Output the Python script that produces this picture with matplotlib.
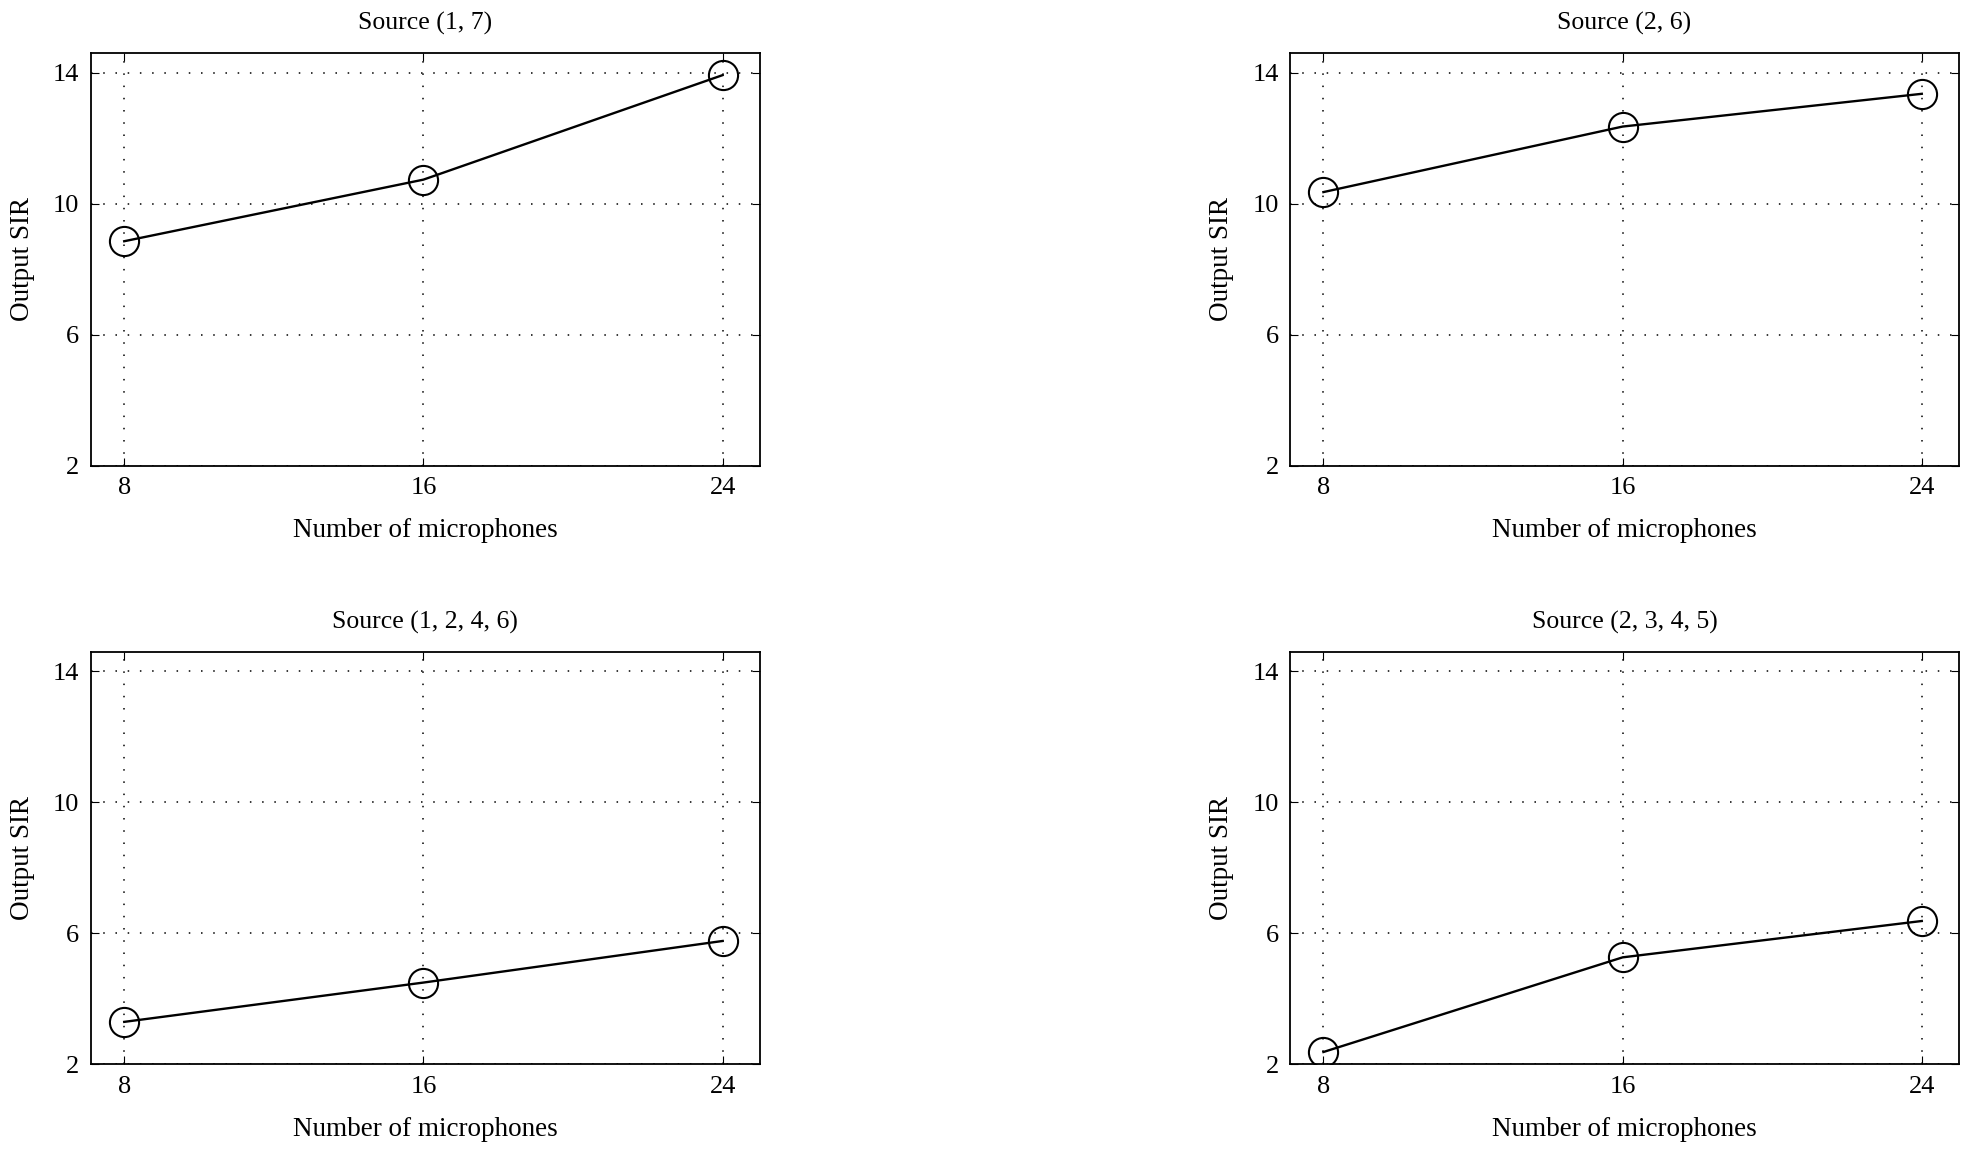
import matplotlib
matplotlib.use("Agg")
import matplotlib.pyplot as plt

mics = [8, 16, 24]
titles = ["Source (1, 7)", "Source (2, 6)", "Source (1, 2, 4, 6)", "Source (2, 3, 4, 5)"]
sir_1_7 = [8.85, 10.73, 13.92]
sir_2_6 = [10.35, 12.35, 13.35]
sir_1246 = [3.3, 4.5, 5.77]
sir_2345 = [2.38, 5.27, 6.38]
series = [sir_1_7, sir_2_6, sir_1246, sir_2345]
yticks = [2, 6, 10, 14]

plt.rcParams['font.family'] = ['Liberation Serif', 'DejaVu Serif']

fig = plt.figure(figsize=(19.73, 11.54), dpi=100)
positions = [
    [0.0459, 0.5965, 0.3393, 0.3577],
    [0.6537, 0.5965, 0.3393, 0.3577],
    [0.0459, 0.0776, 0.3393, 0.3576],
    [0.6537, 0.0776, 0.3393, 0.3576],
]
for pos, title, vals in zip(positions, titles, series):
    ax = fig.add_axes(pos)
    ax.plot(mics, vals, color='black', linewidth=1.7, marker='o', markersize=21,
            markerfacecolor='none', markeredgecolor='black', markeredgewidth=1.5, zorder=3)
    ax.set_xlim(7.1, 25.0)
    ax.set_ylim(2, 14.6)
    ax.set_xticks(mics)
    ax.set_yticks(yticks)
    ax.grid(True, linestyle=(0, (1, 7)), color='black', linewidth=1.1)
    ax.tick_params(direction='in', top=True, right=True, length=6, labelsize=19, pad=8)
    for s in ax.spines.values():
        s.set_linewidth(1.3)
    ax.set_title(title, fontsize=18.5, pad=17)
    ax.set_xlabel("Number of microphones", fontsize=19.5, labelpad=14)
    ax.set_ylabel("Output SIR", fontsize=19.5, labelpad=13)

fig.savefig("out.png", dpi=100)
